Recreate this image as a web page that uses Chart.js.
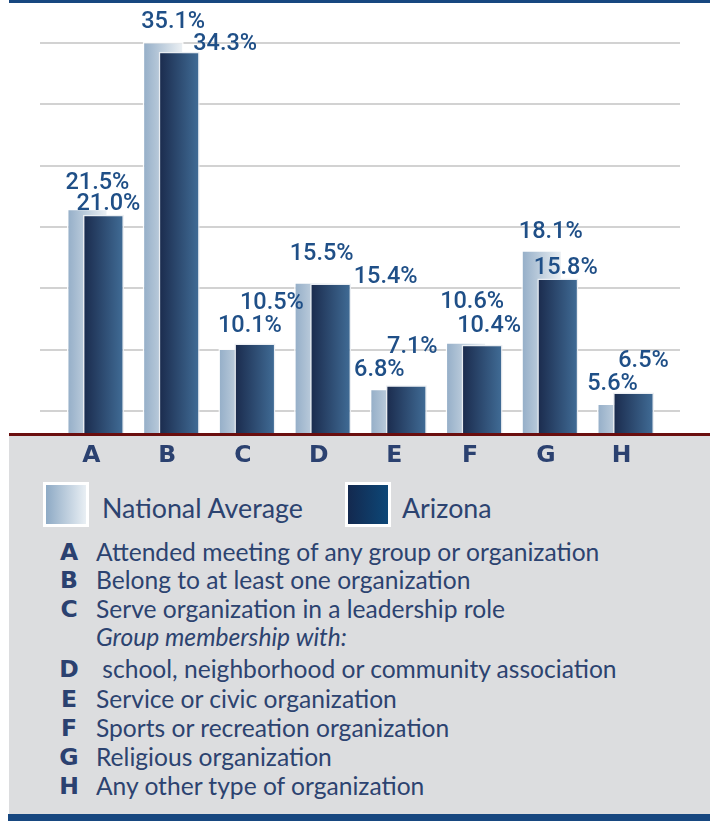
<!DOCTYPE html>
<html>
<head>
<meta charset="utf-8">
<script src="https://cdn.jsdelivr.net/npm/chart.js@4"></script>
<style>
  body { margin: 0; background: #fff; }
  #wrap { position: relative; width: 710px; height: 821px; overflow: hidden; font-family: Lato, "Open Sans", sans-serif; color: #2c4370; }
  .topbar { position: absolute; left: 9px; top: 0; width: 701px; height: 3px; background: #174780; }
  .panel { position: absolute; left: 9px; top: 433px; width: 701px; height: 381px; background: #dcdddf; border-top: 3px solid #6a0e0e; box-sizing: border-box; }
  .bottombar { position: absolute; left: 8px; top: 814px; width: 702px; height: 7px; background: #174780; }
  #chartBox { position: absolute; left: 0; top: 0; width: 710px; height: 480px; }
  .swatch { position: absolute; top: 482px; width: 46px; height: 45px; border: 3px solid #fff; box-sizing: border-box; }
  .legText { position: absolute; top: 493px; font-size: 26.8px; line-height: 30px; }
  .row { position: absolute; left: 0; height: 28px; line-height: 28px; font-size: 24.6px; white-space: pre; }
  .row b { position: absolute; left: 54px; width: 30px; text-align: center; font-family: "DejaVu Sans", sans-serif; font-weight: bold; font-size: 23.5px; color: #2b4170; }
  .row span { position: absolute; left: 96px; }
</style>
</head>
<body>
<div id="wrap">
  <div class="topbar"></div>
  <div class="panel"></div>
  <div class="bottombar"></div>
  <div id="chartBox"><canvas id="orgChart" width="710" height="480"></canvas></div>

  <div class="swatch" style="left:43px;background:linear-gradient(to right,#8eaac5,#e9eff4);"></div>
  <div class="legText" style="left:102px;">National Average</div>
  <div class="swatch" style="left:345px;background:linear-gradient(to right,#13294f,#0d4777);"></div>
  <div class="legText" style="left:402px;">Arizona</div>

  <div id="descList"></div>
</div>

<script>
// categories and values (percent)
const categories = ['A', 'B', 'C', 'D', 'E', 'F', 'G', 'H'];
const nationalAverage = [21.5, 35.1, 10.1, 15.5, 6.8, 10.6, 18.1, 5.6];
const arizona = [21.0, 34.3, 10.5, 15.4, 7.1, 10.4, 15.8, 6.5];
const gridValues = [5, 10, 15, 20, 25, 30, 35];

const descriptions = [
    ['A', 'Attended meeting of any group or organization'],
    ['B', 'Belong to at least one organization'],
    ['C', 'Serve organization in a leadership role'],
    ['', 'Group membership with:'],
    ['D', ' school, neighborhood or community association'],
    ['E', 'Service or civic organization'],
    ['F', 'Sports or recreation organization'],
    ['G', 'Religious organization'],
    ['H', 'Any other type of organization']
];

// label nudges (px) so the value labels sit where the original put them
const natLabelDx = [10, 10, 11, 7, -11, 6, 9, -5];
const natLabelDy = [-26, -20, -22, -28, -19, -40, -18, -19];
const azLabelDx  = [5, 46, 17, 55, 6, 7, 8, 10];
const azLabelDy  = [-11, -8, -40, -6, -38, -19, -10, -31];

// description list
const rowCenters = [552, 580, 609, 637, 669, 699, 728, 757, 786];
const descList = document.getElementById('descList');
descriptions.forEach((d, i) => {
    const row = document.createElement('div');
    row.className = 'row';
    row.style.top = (rowCenters[i] - 14) + 'px';
    const letter = document.createElement('b');
    letter.textContent = d[0];
    const txt = document.createElement('span');
    txt.textContent = d[1];
    if (d[0] === '') txt.style.fontStyle = 'italic';
    row.appendChild(letter);
    row.appendChild(txt);
    descList.appendChild(row);
});

const BAR_W = 41;
const SHIFT = 8; // half the distance between the two overlapping bars

function barFill(shift, left, right) {
    return (ctx) => {
        const chart = ctx.chart;
        if (!chart.chartArea || ctx.dataIndex === undefined) return left;
        const cx = chart.scales.x.getPixelForValue(ctx.dataIndex) + shift;
        const g = chart.ctx.createLinearGradient(cx - BAR_W / 2, 0, cx + BAR_W / 2, 0);
        g.addColorStop(0, left);
        g.addColorStop(1, right);
        return g;
    };
}

const orgPlugin = {
    id: 'orgPlugin',
    beforeDraw(chart) {
        // long grey grid lines
        const ctx = chart.ctx;
        const y = chart.scales.y;
        ctx.save();
        ctx.strokeStyle = '#d2d2d2';
        ctx.lineWidth = 2;
        y.ticks.forEach(t => {
            const py = Math.round(y.getPixelForValue(t.value));
            ctx.beginPath();
            ctx.moveTo(40, py);
            ctx.lineTo(680, py);
            ctx.stroke();
        });
        ctx.restore();
    },
    beforeDatasetsDraw(chart) {
        // national bars first, Arizona bars over them, clipped to the plot
        const a = chart.chartArea;
        const ctx = chart.ctx;
        ctx.save();
        ctx.beginPath();
        ctx.rect(a.left - 30, a.top - 20, a.right - a.left + 60, a.bottom - a.top + 20);
        ctx.clip();
        chart.getDatasetMeta(0).controller.draw();
        chart.getDatasetMeta(1).controller.draw();
        ctx.restore();
        return false;
    },
    afterDraw(chart) {
        const ctx = chart.ctx;
        ctx.save();
        ctx.font = '500 23.5px Roboto, "Liberation Sans", sans-serif';
        ctx.fillStyle = '#1f4f87';
        ctx.textAlign = 'center';
        ctx.textBaseline = 'middle';
        const offs = [[natLabelDx, natLabelDy], [azLabelDx, azLabelDy]];
        chart.data.datasets.forEach((ds, di) => {
            const meta = chart.getDatasetMeta(di);
            meta.data.forEach((bar, i) => {
                const txt = ds.data[i].toFixed(1) + '%';
                ctx.fillText(txt, bar.x + offs[di][0][i], bar.y + offs[di][1][i]);
            });
        });
        ctx.restore();
    }
};

new Chart(document.getElementById('orgChart'), {
    type: 'bar',
    data: {
        labels: categories,
        datasets: [
            {
                label: 'National Average',
                data: nationalAverage,
                backgroundColor: barFill(-SHIFT, '#93adc7', '#eef2f5'),
                borderColor: 'rgba(255,255,255,0.9)',
                borderWidth: 1.5,
                categoryPercentage: (2 * SHIFT * 2) / 75.7,
                barPercentage: BAR_W / (2 * SHIFT)
            },
            {
                label: 'Arizona',
                data: arizona,
                backgroundColor: barFill(SHIFT, '#1a2a4c', '#416d97'),
                borderColor: 'rgba(235,238,242,0.95)',
                borderWidth: 1.5,
                categoryPercentage: (2 * SHIFT * 2) / 75.7,
                barPercentage: BAR_W / (2 * SHIFT)
            }
        ]
    },
    options: {
        responsive: false,
        animation: false,
        layout: {
            padding: { left: 57.6, right: 46.6, top: 10, bottom: 0 }
        },
        plugins: {
            legend: { display: false },
            tooltip: { enabled: false }
        },
        scales: {
            x: {
                offset: true,
                grid: { display: false, drawTicks: false },
                border: { display: false },
                ticks: {
                    color: '#2b4170',
                    font: { family: '"DejaVu Sans"', size: 23.5, weight: 'bold' },
                    padding: 9,
                    labelOffset: -4
                },
                afterFit: (scale) => { scale.height = 47; }
            },
            y: {
                display: false,
                min: 3.2,
                max: 37.7,
                afterBuildTicks: (scale) => {
                    scale.ticks = gridValues.map(v => ({ value: v }));
                }
            }
        }
    },
    plugins: [orgPlugin]
});
</script>
</body>
</html>
